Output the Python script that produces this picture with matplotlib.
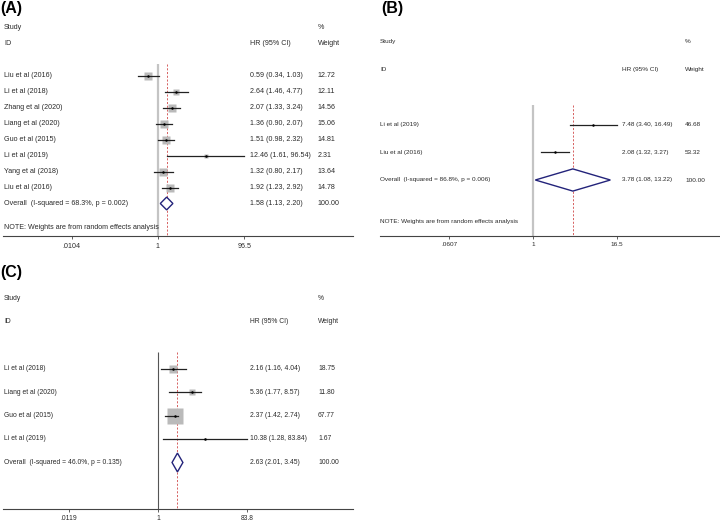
import numpy as np
import matplotlib
matplotlib.use("Agg")
import matplotlib.pyplot as plt

plt.rcParams['font.family'] = ['Liberation Sans', 'DejaVu Sans']

# Panel A
studies_a = ["Liu et al (2016)", "Li et al (2018)", "Zhang et al (2020)", "Liang et al (2020)",
             "Guo et al (2015)", "Li et al (2019)", "Yang et al (2018)", "Liu et al (2016)"]
hr_a = [0.59, 2.64, 2.07, 1.36, 1.51, 12.46, 1.32, 1.92]
lo_a = [0.34, 1.46, 1.33, 0.90, 0.98, 1.61, 0.80, 1.23]
hi_a = [1.03, 4.77, 3.24, 2.07, 2.32, 96.54, 2.17, 2.92]
wt_a = [12.72, 12.11, 14.56, 15.06, 14.81, 2.31, 13.64, 14.78]
overall_a = [1.58, 1.13, 2.20]
i2_a, p_a = "68.3%", "0.002"
ticks_a = [0.0104, 1, 96.5]
ticklabels_a = [".0104", "1", "96.5"]

# Panel B
studies_b = ["Li et al (2019)", "Liu et al (2016)"]
hr_b = [7.48, 2.08]
lo_b = [3.40, 1.32]
hi_b = [16.49, 3.27]
wt_b = [46.68, 53.32]
overall_b = [3.78, 1.08, 13.22]
i2_b, p_b = "86.8%", "0.006"
ticks_b = [0.0607, 1, 16.5]
ticklabels_b = [".0607", "1", "16.5"]

# Panel C
studies_c = ["Li et al (2018)", "Liang et al (2020)", "Guo et al (2015)", "Li et al (2019)"]
hr_c = [2.16, 5.36, 2.37, 10.38]
lo_c = [1.16, 1.77, 1.42, 1.28]
hi_c = [4.04, 8.57, 2.74, 83.84]
wt_c = [18.75, 11.80, 67.77, 1.67]
overall_c = [2.63, 2.01, 3.45]
i2_c, p_c = "46.0%", "0.135"
ticks_c = [0.0119, 1, 83.8]
ticklabels_c = [".0119", "1", "83.8"]

W, H = 720, 521
fig = plt.figure(figsize=(W / 100, H / 100), dpi=100)
fig.patch.set_facecolor("white")

TXT = "#2a2a2a"


def forest(geo, studies, hr, lo, hi, wt, overall, i2, p, ticks, ticklabels,
           fs, boxes=True, note=True, refcol="#c4c4c4", reflw=1.6):
    left, right, x1, ppd, axis_y, top_y, row0, dy = geo["box"]
    ax = fig.add_axes([left / W, 1 - axis_y / H, (right - left) / W, (axis_y - top_y) / H])
    ax.set_xscale("log")
    ax.set_xlim(10 ** ((left - x1) / ppd), 10 ** ((right - x1) / ppd))
    ybot = (axis_y - row0) / dy
    ax.set_ylim(ybot, (top_y - row0) / dy)
    for s in ["top", "right", "left"]:
        ax.spines[s].set_visible(False)
    ax.spines["bottom"].set_color("#444444")
    ax.spines["bottom"].set_linewidth(0.8)
    ax.set_yticks([])
    ax.set_xticks(ticks)
    ax.set_xticklabels(ticklabels)
    ax.minorticks_off()
    ax.tick_params(axis="x", length=2.5, width=0.6, pad=2.5, labelsize=fs, colors="#444444",
                   labelcolor=TXT)

    def fx(px):
        return (px - left) / (right - left)

    cl, ch, cw = fx(geo["lab"]), fx(geo["hr"]), fx(geo["wt"])
    blend = matplotlib.transforms.blended_transform_factory(ax.transAxes, ax.transData)

    def put(x, y, s):
        ax.text(x, y, s, transform=blend, fontsize=fs, color=TXT, va="center", ha="left")

    put(cl, 0, "Study")
    put(cw, 0, "%")
    put(cl, 1, "ID")
    put(ch, 1, "HR (95% CI)")
    put(cw, 1, "Weight")

    rows = np.arange(len(studies)) + 3
    first = rows[0]
    ax.vlines(1, first - 0.7, ybot, color=refcol, lw=reflw, zorder=1)
    ax.vlines(overall[0], first - 0.7, ybot, color="#d04848", lw=0.6,
              linestyles=(0, (2.5, 2)), zorder=1)

    for r, name, e, l, h, w in zip(rows, studies, hr, lo, hi, wt):
        if boxes:
            ax.plot(e, r, marker="s", ms=2.0 * np.sqrt(w) * 0.72, color="#bababa",
                    mec="none", zorder=2)
        ax.plot([l, h], [r, r], color="#222222", lw=0.9, zorder=3)
        ax.plot(e, r, marker="o", ms=1.8, color="black", mec="none", zorder=4)
        put(cl, r, name)
        put(ch, r, f"{e:.2f} ({l:.2f}, {h:.2f})")
        put(cw, r, f"{w:.2f}")

    ro = rows[-1] + 1
    e, l, h = overall
    ax.fill([l, e, h, e], [ro, ro - 0.4, ro, ro + 0.4], facecolor="white",
            edgecolor="#23237a", lw=1.0, zorder=3)
    put(cl, ro, f"Overall  (I-squared = {i2}, p = {p})")
    put(ch, ro, f"{e:.2f} ({l:.2f}, {h:.2f})")
    put(cw, ro, "100.00")
    if note:
        put(cl, ro + 1.5, "NOTE: Weights are from random effects analysis")
    return ax


geo_a = {"box": (3, 353, 158, 43.5, 236, 0, 27.5, 16.0), "lab": 4, "hr": 250, "wt": 318}
geo_b = {"box": (380, 720, 533, 69.0, 235.5, 0, 41.5, 27.7), "lab": 380, "hr": 622, "wt": 685}
geo_c = {"box": (3, 353, 158, 46.3, 508.5, 262, 298, 23.5), "lab": 4, "hr": 250, "wt": 318}

forest(geo_a, studies_a, hr_a, lo_a, hi_a, wt_a, overall_a, i2_a, p_a, ticks_a, ticklabels_a, 5.1)
forest(geo_b, studies_b, hr_b, lo_b, hi_b, wt_b, overall_b, i2_b, p_b, ticks_b, ticklabels_b, 4.6,
       boxes=False)
forest(geo_c, studies_c, hr_c, lo_c, hi_c, wt_c, overall_c, i2_c, p_c, ticks_c, ticklabels_c, 4.9,
       note=False, refcol="#555555", reflw=0.8)

fig.text(0 / W, 1 - 8 / H, "(A)", fontsize=11.5, fontweight="bold", va="center", ha="left")
fig.text(381 / W, 1 - 9 / H, "(B)", fontsize=11.5, fontweight="bold", va="center", ha="left")
fig.text(0 / W, 1 - 273 / H, "(C)", fontsize=11.5, fontweight="bold", va="center", ha="left")

fig.savefig("out.png", dpi=100, facecolor="white")
